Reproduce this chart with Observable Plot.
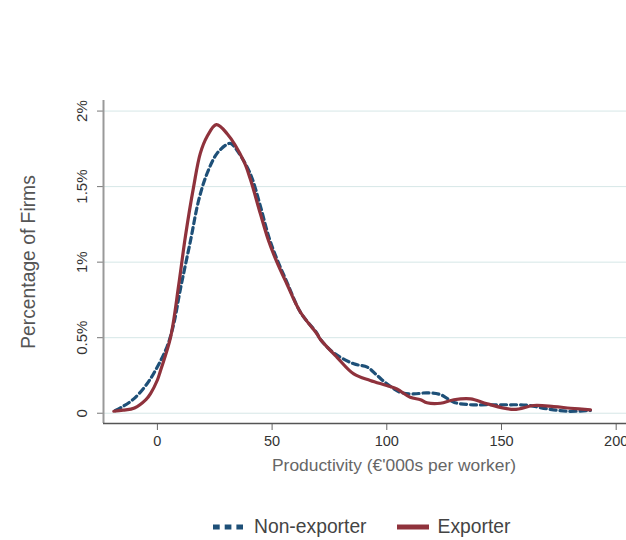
<!DOCTYPE html>
<html>
<head>
<meta charset="utf-8">
<script src="https://cdn.jsdelivr.net/npm/d3@7"></script>
<script src="https://cdn.jsdelivr.net/npm/@observablehq/plot@0.6"></script>
<style>
  html, body { margin: 0; padding: 0; background: #fff; }
  body { width: 626px; height: 540px; overflow: hidden; font-family: "Liberation Sans", Arial, sans-serif; }
  #legend { height: 40px; display: flex; justify-content: flex-start; align-items: center; padding-left: 213px; box-sizing: border-box; position: relative; top: 7px; font-size: 19.3px; color: #444; }
  .item { display: flex; align-items: center; }
</style>
</head>
<body>
<div id="chart"></div>
<div id="legend"></div>
<script>
// Data (percentage of firms, productivity in €'000s per worker)
const seriesNames = ["Non-exporter", "Exporter"];
const nonExporterX = [-18.3, -15, -10.3, -4.5, -0.1, 4.2, 7.1, 10, 14.4, 18, 21.6, 26, 30.4, 32, 34.7, 40.5, 44.9, 48.5, 52.1, 56.4, 62.3, 69.5, 71, 76.8, 85.6, 91.5, 95.8, 100, 105.8, 111.6, 117.5, 123.3, 129.2, 136.5, 143.8, 152.5, 161.2, 169.9, 178.6, 188.8];
const nonExporterY = [0.018, 0.045, 0.095, 0.195, 0.305, 0.44, 0.59, 0.82, 1.14, 1.41, 1.585, 1.72, 1.78, 1.785, 1.74, 1.585, 1.37, 1.17, 1.02, 0.87, 0.67, 0.53, 0.49, 0.40, 0.327, 0.305, 0.25, 0.195, 0.139, 0.128, 0.135, 0.124, 0.073, 0.056, 0.056, 0.056, 0.053, 0.029, 0.013, 0.018];
const exporterX = [-19, -15, -10, -5, -3, 0, 1.3, 5.7, 9.3, 12.2, 15.8, 18.7, 21.6, 25.7, 30.4, 37.6, 40.5, 44.9, 48.5, 52.1, 56.4, 62.3, 69.5, 71, 78.3, 85.6, 92.8, 100, 104.4, 110.2, 114.7, 117.5, 123.4, 129.2, 136.5, 143.8, 155.4, 164.1, 172.8, 180.1, 188.8];
const exporterY = [0.013, 0.02, 0.035, 0.09, 0.13, 0.22, 0.28, 0.50, 0.85, 1.17, 1.50, 1.72, 1.83, 1.91, 1.85, 1.67, 1.55, 1.32, 1.14, 1.0, 0.857, 0.67, 0.526, 0.49, 0.37, 0.26, 0.217, 0.183, 0.16, 0.106, 0.089, 0.069, 0.066, 0.089, 0.095, 0.062, 0.025, 0.051, 0.044, 0.033, 0.022];
const xTicks = [0, 50, 100, 150, 200];
const yTicks = [0, 0.5, 1, 1.5, 2];
const yTickLabels = ["0", "0.5%", "1%", "1.5%", "2%"];
const xTitle = "Productivity (€'000s per worker)";
const yTitle = "Percentage of Firms";
const colors = ["#1e5078", "#8f323c"];

const nonExp = nonExporterX.map((x, i) => ({x, y: nonExporterY[i]}));
const exp = exporterX.map((x, i) => ({x, y: exporterY[i]}));

const xMin = -23.5, xMax = 204.5, yMin = -0.068, yMax = 2.07;
const font = "'Liberation Sans', Arial, sans-serif";

const chart = Plot.plot({
  width: 626,
  height: 500,
  marginTop: 100,
  marginBottom: 77,
  marginLeft: 103,
  marginRight: 0,
  style: {fontFamily: font, background: "#fff"},
  x: {domain: [xMin, xMax]},
  y: {domain: [yMin, yMax]},
  marks: [
    Plot.gridY(yTicks, {stroke: "#d6e7e7", strokeOpacity: 1, strokeWidth: 1}),
    Plot.axisX({ticks: xTicks, tickSize: 7, tickPadding: 5, fontSize: 14.5, color: "#333", stroke: "#666", label: null}),
    Plot.axisY({ticks: yTicks, tickSize: 6, tickFormat: () => "", label: null, stroke: "#777"}),
    Plot.text(yTicks, {y: d => d, text: (d, i) => yTickLabels[i], frameAnchor: "left", textAnchor: "middle", dx: -21, rotate: -90, fontSize: 15, fill: "#333"}),
    Plot.ruleX([xMin], {stroke: "#999", strokeWidth: 2}),
    Plot.ruleY([yMin], {stroke: "#555", strokeWidth: 1.5}),
    Plot.text([xTitle], {frameAnchor: "bottom", dx: 29, dy: 47, fontSize: 17.4, fill: "#666"}),
    Plot.text([yTitle], {frameAnchor: "left", textAnchor: "middle", dx: -75, rotate: -90, fontSize: 19.3, fill: "#555"}),
    Plot.line(nonExp, {x: "x", y: "y", stroke: colors[0], strokeWidth: 3.2, strokeDasharray: "6,4", curve: "catmull-rom"}),
    Plot.line(exp, {x: "x", y: "y", stroke: colors[1], strokeWidth: 3.2, curve: "catmull-rom"})
  ]
});
document.getElementById("chart").appendChild(chart);

const legend = document.getElementById("legend");
legend.innerHTML = `
  <div class="item" style="margin-right:30px">
    <svg width="30" height="8" style="margin-right:11px"><line x1="0" y1="4" x2="30" y2="4" stroke="${colors[0]}" stroke-width="5" stroke-dasharray="6.7,5"/></svg>
    <span>${seriesNames[0]}</span>
  </div>
  <div class="item">
    <svg width="32" height="8" style="margin-right:9px"><line x1="0" y1="4" x2="32" y2="4" stroke="${colors[1]}" stroke-width="5"/></svg>
    <span>${seriesNames[1]}</span>
  </div>`;
</script>
</body>
</html>
